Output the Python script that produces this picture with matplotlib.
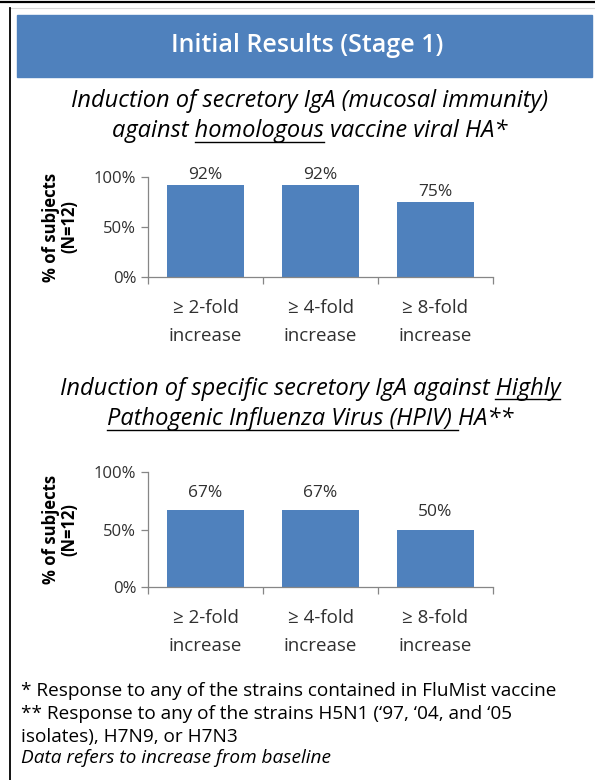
import matplotlib
matplotlib.use("Agg")
from matplotlib import pyplot as plt
from matplotlib.patches import Rectangle
from matplotlib.lines import Line2D
import numpy as np

plt.rcParams["font.family"] = ["Open Sans", "DejaVu Sans"]

W, H = 595, 780

categories = ["\u2265 2-fold\nincrease", "\u2265 4-fold\nincrease", "\u2265 8-fold\nincrease"]
homologous = [92, 92, 75]
hpiv = [67, 67, 50]
yticks = [0, 50, 100]
ylabel = "% of subjects\n(N=12)"

title = "Initial Results (Stage 1)"
sub1 = [("Induction of secretory IgA (mucosal immunity)", None),
        ("against homologous vaccine viral HA*", "homologous")]
sub2 = [("Induction of specific secretory IgA against Highly", "Highly"),
        ("Pathogenic Influenza Virus (HPIV) HA**", "Pathogenic Influenza Virus (HPIV) ")]
notes = ["* Response to any of the strains contained in FluMist vaccine",
         "** Response to any of the strains H5N1 (\u201897, \u201804, and \u201805",
         "isolates), H7N9, or H7N3"]
note_last = "Data refers to increase from baseline"

blue = "#4F81BD"
grey = "#868686"
dark = "#303030"

fig = plt.figure(figsize=(W / 100, H / 100), dpi=100)
fig.patch.set_facecolor("white")


def fx(x):
    return x / W


def fy(y):
    return 1 - y / H


# frame and header band
fig.add_artist(Line2D([0, 1], [fy(1.5), fy(1.5)], color="black", lw=1.6))
fig.add_artist(Line2D([fx(10), 1], [fy(8), fy(8)], color="#d8d8d8", lw=0.8))
fig.add_artist(Line2D([fx(10), fx(10)], [fy(8), 0], color="black", lw=1.3))
fig.add_artist(Rectangle((fx(17), fy(77)), fx(592) - fx(17), (77 - 15) / H,
                         color=blue, transform=fig.transFigure))
fig.text(fx(307), fy(46), title, color="white", fontsize=18, fontweight="semibold",
         ha="center", va="center")

renderer = fig.canvas.get_renderer()


def text_width(s, **kw):
    t = fig.text(0, 0, s, **kw)
    w = t.get_window_extent(renderer).width
    t.remove()
    return w


def sub_line(y, s, ul, size=17):
    kw = dict(fontsize=size, style="italic")
    fig.text(fx(310), fy(y), s, ha="center", va="baseline", **kw)
    if ul is None:
        return
    total = text_width(s, **kw)
    i = s.index(ul)
    x1 = text_width(s[:i + len(ul)], **kw)
    x0 = x1 - text_width(ul.strip(), **kw) if s[:i] else 0
    if ul.endswith(" "):
        x1 = text_width(ul.strip(), **kw) + text_width("a a", **kw) - text_width("aa", **kw)
    left = 310 - total / 2
    yy = y + 4.5
    fig.add_artist(Line2D([fx(left + x0), fx(left + x1)], [fy(yy), fy(yy)],
                          color="black", lw=1.0))


sub_line(107, sub1[0][0], sub1[0][1])
sub_line(137, sub1[1][0], sub1[1][1])
sub_line(395, sub2[0][0], sub2[0][1])
sub_line(425, sub2[1][0], sub2[1][1])


def bar_chart(top, bottom, values, label_pad):
    ax = fig.add_axes([fx(148), fy(bottom), fx(493) - fx(148), (bottom - top) / H])
    x = np.arange(len(values))
    ax.bar(x, values, width=0.67, color=blue)
    ax.set_xlim(-0.5, len(values) - 0.5)
    ax.set_ylim(0, 100)
    ax.set_yticks(yticks)
    ax.set_yticklabels([f"{v}%" for v in yticks])
    ax.set_xticks(x)
    ax.set_xticklabels(categories, linespacing=1.68)
    ax.set_xticks(np.arange(-0.5, len(values)), minor=True)
    ax.tick_params(axis="x", which="major", length=0, pad=16, labelsize=13.5, labelcolor=dark)
    ax.tick_params(axis="x", which="minor", length=5, color=grey, width=0.9)
    ax.tick_params(axis="y", length=5, color=grey, width=0.9, labelsize=12, labelcolor=dark)
    for side in ["top", "right"]:
        ax.spines[side].set_visible(False)
    for side in ["left", "bottom"]:
        ax.spines[side].set_color(grey)
        ax.spines[side].set_linewidth(0.9)
    for xi, v in zip(x, values):
        ax.annotate(f"{v}%", (xi, v), xytext=(0, label_pad), textcoords="offset points",
                    ha="center", va="bottom", fontsize=12.5, color=dark)
    ax.set_ylabel(ylabel, fontsize=12, fontweight="bold", labelpad=11, linespacing=1.0)
    return ax


bar_chart(177, 277, homologous, 1.5)
bar_chart(472, 587, hpiv, 6.5)

for i, s in enumerate(notes):
    fig.text(fx(21), fy(696 + 23 * i), s, fontsize=13.7, va="baseline", ha="left")
fig.text(fx(21), fy(763), note_last, fontsize=13.7, style="italic", va="baseline", ha="left")

fig.savefig("out.png", dpi=100)
